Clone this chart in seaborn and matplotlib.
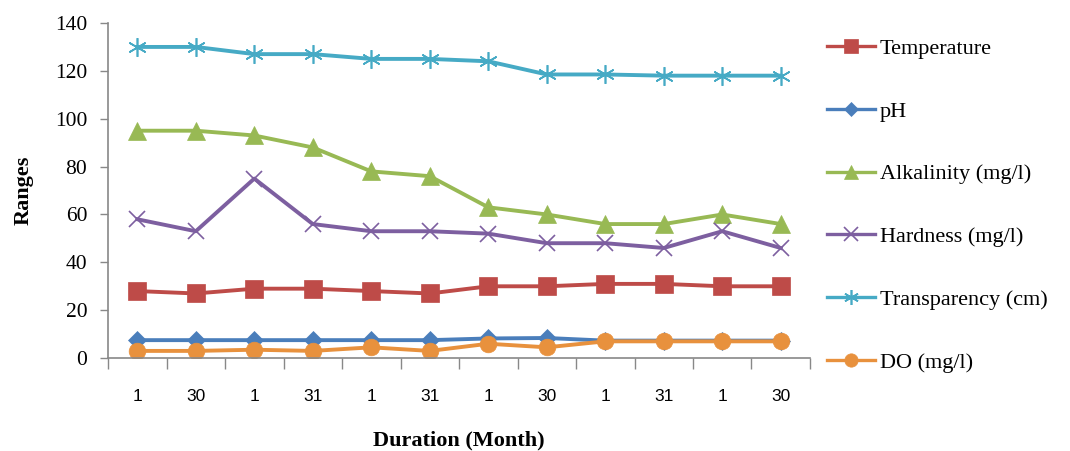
import matplotlib
matplotlib.use("Agg")
from matplotlib import pyplot as plt
from matplotlib.lines import Line2D
import seaborn as sns
import numpy as np
import pandas as pd

# x categories (day of month)
day_labels = ["1", "30", "1", "31", "1", "31", "1", "30", "1", "31", "1", "30"]

temperature = [28, 27, 29, 29, 28, 27, 30, 30, 31, 31, 30, 30]
ph = [7.5, 7.5, 7.5, 7.5, 7.5, 7.5, 8.2, 8.4, 7.3, 7.3, 7.3, 7.3]
alkalinity = [95, 95, 93, 88, 78, 76, 63, 60, 56, 56, 60, 56]
hardness = [58, 53, 75, 56, 53, 53, 52, 48, 48, 46, 53, 46]
transparency = [130, 130, 127, 127, 125, 125, 124, 118.5, 118.5, 118, 118, 118]
do = [3, 3, 3.5, 3, 4.5, 3, 6, 4.5, 7, 7, 7, 7]

series_names = ["Temperature", "pH", "Alkalinity (mg/l)", "Hardness (mg/l)",
                "Transparency (cm)", "DO (mg/l)"]
series_values = [temperature, ph, alkalinity, hardness, transparency, do]
colors = ["#BE4B48", "#4A7EBB", "#98B954", "#7D5FA0", "#46AAC5", "#E8913D"]
markers = ["s", "D", "^", "x", (6, 2, 0), "o"]
msizes = [12.5, 9, 12.5, 12, 13.5, 12]

plt.rcParams["font.family"] = ["Liberation Serif", "DejaVu Serif"]

fig = plt.figure(figsize=(10.7, 4.51), dpi=100)
ax = fig.add_axes([0.101, 0.206, 0.656, 0.743])

x = np.arange(len(day_labels))
for name, vals, c, m, ms in zip(series_names, series_values, colors, markers, msizes):
    df = pd.DataFrame({"x": x, "y": vals})
    sns.lineplot(data=df, x="x", y="y", ax=ax, color=c, linewidth=2.8,
                 marker=m, markersize=ms, markeredgecolor=c, markerfacecolor=c,
                 markeredgewidth=1.2 if m in ("x", (6, 2, 0)) else 0.5,
                 label=name, legend=False)

ax.set_xlim(-0.5, len(day_labels) - 0.5)
ax.set_ylim(0, 140)
ax.set_yticks(range(0, 141, 20))
ax.set_xticks(x)
ax.set_xticklabels(day_labels, fontsize=12.5, family=["Liberation Sans", "DejaVu Sans"])
ax.set_xticks(np.arange(-0.5, len(day_labels)), minor=True)
ax.tick_params(axis="x", which="major", length=0, pad=22)
ax.tick_params(axis="x", which="minor", length=8, color="#888888", width=1)
ax.tick_params(axis="y", length=6, color="#888888", width=1, labelsize=15.5, pad=9)

for side in ["top", "right"]:
    ax.spines[side].set_visible(False)
for side in ["left", "bottom"]:
    ax.spines[side].set_color("#888888")
    ax.spines[side].set_linewidth(1.2)

ax.set_xlabel("Duration (Month)", fontsize=16, fontweight="bold", labelpad=19)
ax.set_ylabel("Ranges", fontsize=16, fontweight="bold", labelpad=15)

handles = [Line2D([0], [0], color=c, linewidth=2.4, marker=m, markersize=ms * 0.8,
                  markeredgecolor=c, markerfacecolor=c,
                  markeredgewidth=1.2 if m in ("x", (6, 2, 0)) else 0.5)
           for c, m, ms in zip(colors, markers, msizes)]
fig.legend(handles, series_names, loc="upper left", bbox_to_anchor=(0.765, 0.935),
           frameon=False, fontsize=16, labelspacing=1.9, handlelength=2.15,
           handletextpad=0.2, borderaxespad=0)

fig.savefig("out.png", dpi=100)
